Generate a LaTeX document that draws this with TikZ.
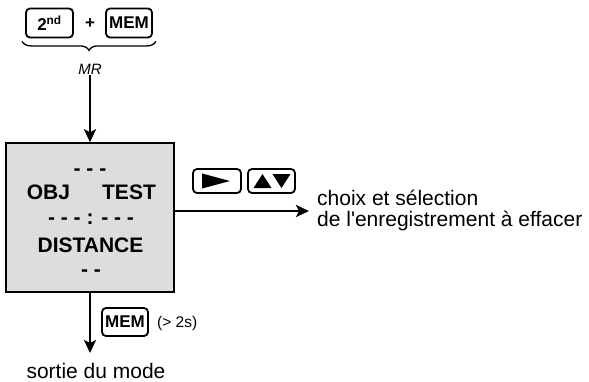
\documentclass[tikz,border=0pt]{standalone}
\usepackage{fontspec}
\setmainfont{Liberation Sans}
\usetikzlibrary{arrows.meta, positioning, decorations.pathreplacing}
\definecolor{dispgray}{RGB}{221,221,221}

\tikzset{
  touche/.style={draw, line width=1.8pt, rounded corners=4pt, inner sep=0pt,
    minimum height=29pt, font=\bfseries\fontsize{17}{19}\selectfont},
  ecran/.style={draw, line width=1.5pt, fill=dispgray,
    minimum width=168pt, minimum height=149pt},
  txtecran/.style={font=\bfseries\fontsize{21}{24}\selectfont, inner sep=0pt, anchor=base},
  fleche/.style={line width=2.6pt, -{Stealth[length=13pt, width=12pt, inset=3pt]}},
  legende/.style={font=\fontsize{21}{24}\selectfont, inner sep=0pt}
}

\begin{document}
\begin{tikzpicture}[x=1pt, y=-1pt]
  \useasboundingbox (0,0) rectangle (589,381);

  % touches 2nd + MEM
  \node[touche, minimum width=47pt] (k2nd) at (49.5,23) {2\textsuperscript{nd}};
  \node[font=\bfseries\fontsize{17}{19}\selectfont] (plus) at (90,24) {+};
  \node[touche, minimum width=46pt] (kmem) at (129,23) {MEM};
  \draw[line width=1.3pt, decorate, decoration={brace, mirror, amplitude=9pt}]
    ([xshift=-3pt, yshift=-3pt]k2nd.south west) -- ([xshift=3pt, yshift=-3pt]kmem.south east);
  \node[font=\itshape\fontsize{15}{17}\selectfont, inner sep=1pt] (mr) at (90,69) {MR};

  % afficheur
  \node[ecran] (disp) at (90,217.5) {};
  \node[txtecran] (tir1) at (90,175) {- - -};
  \node[txtecran] (obj) at (48.5,199) {OBJ};
  \node[txtecran] (test) at (129,199) {TEST};
  \node[txtecran] (sep) at (91,224) {- - - : - - -};
  \node[txtecran] (dist) at (90.5,252) {DISTANCE};
  \node[txtecran] (tir2) at (91,276) {- -};
  \draw[fleche] (mr) -- (disp);

  % touches de navigation
  \node[touche, minimum width=48pt, minimum height=24pt] (kright) at (217,181) {};
  \node[touche, minimum width=47pt, minimum height=24pt] (kupdown) at (271.5,181) {};
  \fill[shift={(kright.center)}] (-15,-7.5) -- (-15,7.5) -- (13,0) -- cycle;
  \fill[shift={(kupdown.center)}] (-18,7) -- (0,7) -- (-9,-7) -- cycle;
  \fill[shift={(kupdown.center)}] (1,-7) -- (19,-7) -- (10,7) -- cycle;

  \coordinate (choix) at (309,211);
  \draw[fleche] (disp.east |- choix) -- (choix);
  \node[legende, anchor=base west] (choix1) at (317,205) {choix et sélection};
  \node[legende, anchor=base west] (choix2) at (317,226) {de l\textquotesingle enregistrement à effacer};

  % sortie
  \coordinate (sortie) at (90,353);
  \draw[fleche] (disp.south) -- (sortie);
  \node[touche, minimum width=46pt, minimum height=28pt] (kmem2) at (125,322) {MEM};
  \node[font=\fontsize{15.5}{17}\selectfont, anchor=west, inner sep=0pt] (duree) at (157,323) {(> 2s)};
  \node[legende, anchor=base] (sortie1) at (96,378) {sortie du mode};
\end{tikzpicture}
\end{document}
